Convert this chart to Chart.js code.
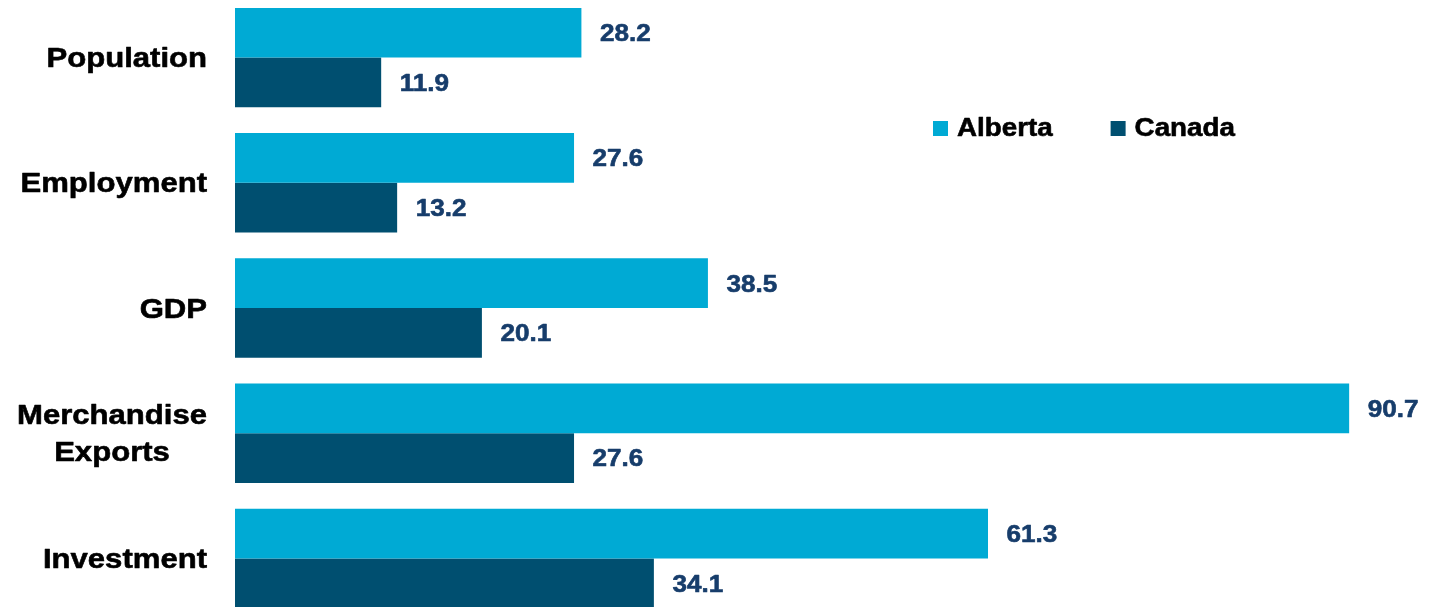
<!DOCTYPE html>
<html>
<head>
<meta charset="utf-8">
<script src="https://cdn.jsdelivr.net/npm/chart.js@4"></script>
<style>
  html, body { margin: 0; padding: 0; background: #fff; overflow: hidden; width: 1429px; height: 607px; }
  #wrap { position: absolute; left: 0; top: -5px; width: 1429px; height: 626px; }
</style>
</head>
<body>
<div id="wrap"><canvas id="c" width="1429" height="626"></canvas></div>
<script>
const categories = ['Population', 'Employment', 'GDP', ['Merchandise', 'Exports'], 'Investment'];
const seriesNames = ['Alberta', 'Canada'];
const albertaValues = [28.2, 27.6, 38.5, 90.7, 61.3];
const canadaValues = [11.9, 13.2, 20.1, 27.6, 34.1];

const COLORS = ['#00AAD4', '#004F70'];
const SX = 1.11; // horizontal text stretch seen in the reference
const FONT = '"Liberation Sans", Arial, sans-serif';

function drawStretched(ctx, text, x, y) {
  ctx.save();
  ctx.translate(x, y);
  ctx.scale(SX, 1);
  ctx.textAlign = 'left';
  ctx.textBaseline = 'alphabetic';
  ctx.strokeStyle = ctx.fillStyle;
  ctx.lineWidth = 0.6;
  ctx.lineJoin = 'round';
  ctx.fillText(text, 0, 0);
  ctx.strokeText(text, 0, 0);
  ctx.restore();
}

const textPlugin = {
  id: 'customText',
  afterDatasetsDraw(chart) {
    const ctx = chart.ctx;
    const yScale = chart.scales.y;
    ctx.save();
    // category labels
    ctx.fillStyle = '#000000';
    ctx.font = 'bold 28px ' + FONT;
    const rightEdge = 207;
    chart.data.labels.forEach((lab, i) => {
      const lines = Array.isArray(lab) ? lab : [lab];
      const cy = yScale.getPixelForValue(i);
      const widths = lines.map(l => ctx.measureText(l).width * SX);
      const widest = Math.max(...widths);
      const lh = 36.7;
      lines.forEach((l, j) => {
        const ly = cy + (j - (lines.length - 1) / 2) * lh + 9.5;
        const lx = rightEdge - widest / 2 - widths[j] / 2;
        drawStretched(ctx, l, lx, ly);
      });
    });
    // value labels
    ctx.fillStyle = '#173D6B';
    ctx.font = 'bold 23.5px ' + FONT;
    chart.data.datasets.forEach((ds, di) => {
      const meta = chart.getDatasetMeta(di);
      meta.data.forEach((bar, i) => {
        drawStretched(ctx, ds.data[i].toFixed(1), bar.x + 18.5, bar.y + 8.4);
      });
    });
    // legend
    ctx.font = 'bold 25px ' + FONT;
    let lx = 933;
    chart.data.datasets.forEach((ds) => {
      ctx.fillStyle = ds.backgroundColor;
      ctx.fillRect(lx, 126, 15, 15);
      ctx.fillStyle = '#000000';
      drawStretched(ctx, ds.label, lx + 24, 141);
      lx += 24 + ctx.measureText(ds.label).width * SX + 58;
    });
    ctx.restore();
  }
};

new Chart(document.getElementById('c'), {
  type: 'bar',
  data: {
    labels: categories,
    datasets: [
      { label: seriesNames[0], data: albertaValues, backgroundColor: COLORS[0], borderWidth: 0,
        barPercentage: 1.0, categoryPercentage: 0.794 },
      { label: seriesNames[1], data: canadaValues, backgroundColor: COLORS[1], borderWidth: 0,
        barPercentage: 1.0, categoryPercentage: 0.794 }
    ]
  },
  options: {
    indexAxis: 'y',
    responsive: false,
    animation: false,
    devicePixelRatio: 1,
    layout: { padding: { left: 235, right: 0, top: 0, bottom: 0 } },
    scales: {
      x: { display: false, min: 0, max: 97.2 },
      y: { display: false, offset: true }
    },
    plugins: {
      legend: { display: false },
      tooltip: { enabled: false }
    }
  },
  plugins: [textPlugin]
});
</script>
</body>
</html>
